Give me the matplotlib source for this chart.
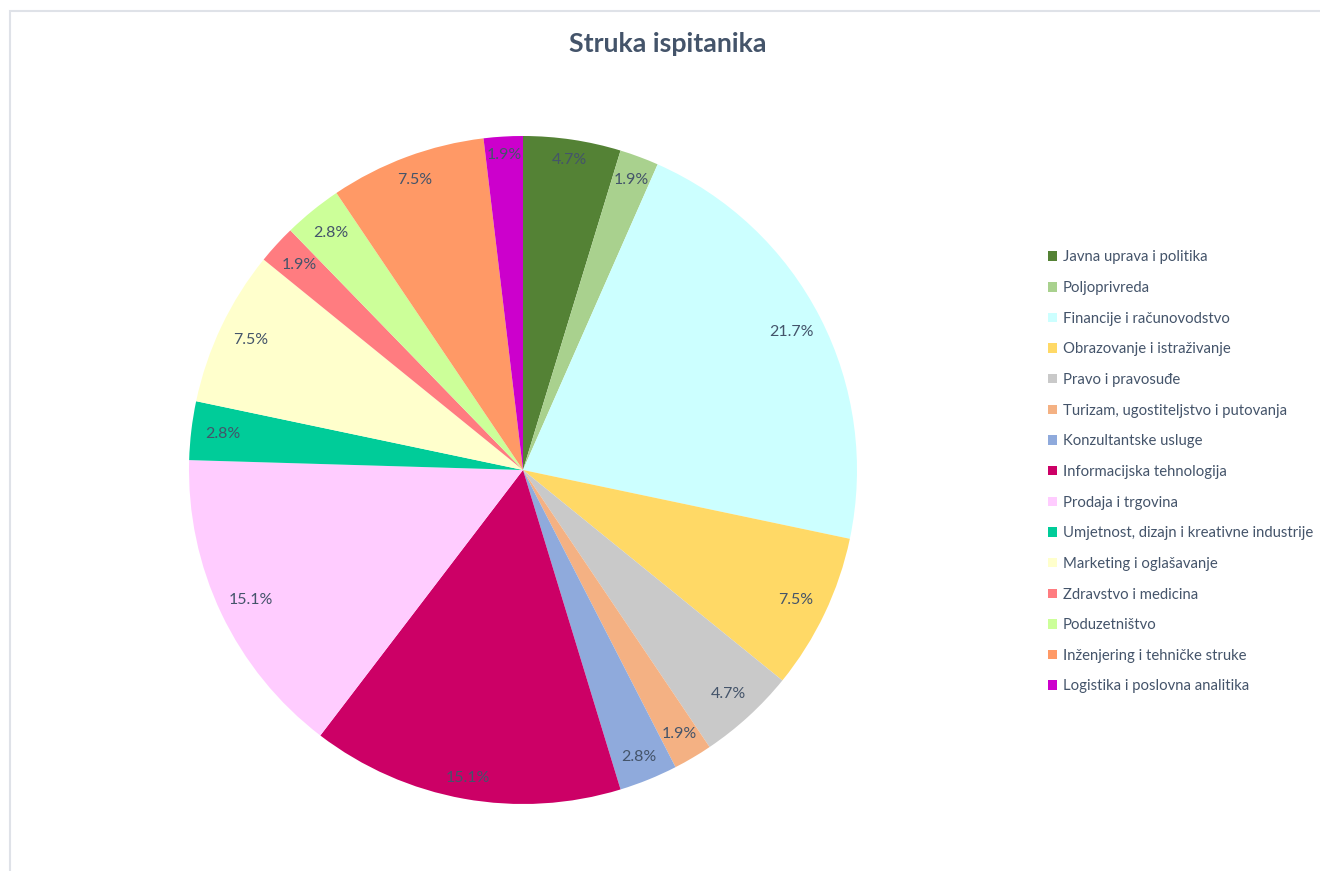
import numpy as np
import matplotlib
matplotlib.use("Agg")
import matplotlib.pyplot as plt
from matplotlib.patches import Rectangle, Patch

categories = [
    "Javna uprava i politika", "Poljoprivreda", "Financije i računovodstvo",
    "Obrazovanje i istraživanje", "Pravo i pravosuđe",
    "Turizam, ugostiteljstvo i putovanja", "Konzultantske usluge",
    "Informacijska tehnologija", "Prodaja i trgovina",
    "Umjetnost, dizajn i kreativne industrije", "Marketing i oglašavanje",
    "Zdravstvo i medicina", "Poduzetništvo", "Inženjering i tehničke struke",
    "Logistika i poslovna analitika",
]
counts = [5, 2, 23, 8, 5, 2, 3, 16, 16, 3, 8, 2, 3, 8, 2]
colors = ["#548235", "#a9d18e", "#ccffff", "#ffd966", "#c9c9c9", "#f4b183",
          "#8faadc", "#cc0066", "#ffccff", "#00cc99", "#ffffcc", "#ff7c80",
          "#ccff99", "#ff9966", "#cc00cc"]
title = "Struka ispitanika"

plt.rcParams['font.family'] = ['Lato', 'DejaVu Sans']
W, H = 1320, 871
fig = plt.figure(figsize=(W / 100, H / 100), dpi=100)

# chart-area border
fig.patches.append(Rectangle((10 / W, -0.1), 1.2, (H - 11) / H + 0.1,
                             transform=fig.transFigure, fill=False,
                             edgecolor="#dfe2e8", linewidth=1.5))

cx, cy, r = 523, 470, 334
ax = fig.add_axes([(cx - r) / W, (H - cy - r) / H, 2 * r / W, 2 * r / H])

total = sum(counts)
wedges, _ = ax.pie(counts, colors=colors, startangle=90, counterclock=False,
                   radius=1, wedgeprops=dict(edgecolor="none"))
ax.set_xlim(-1, 1)
ax.set_ylim(-1, 1)
ax.set_aspect("equal")
ax.axis("off")

# labels placed "inside end"
cum = 0
for c in counts:
    frac = c / total
    mid = (cum + frac / 2) * 2 * np.pi
    cum += frac
    ux, uy = np.sin(mid), np.cos(mid)
    ext = abs(ux) * 22 + abs(uy) * 8
    d = (r - ext - 9) / r
    ax.text(d * ux, d * uy, f"{100 * frac:.1f}%", ha="center", va="center",
            fontsize=11.5, color="#44546a")

fig.text(668 / W, 1 - 44 / H, title, ha="center", va="center",
         fontsize=19.3, fontweight="bold", color="#44546a")

handles = [Patch(facecolor=c, edgecolor="none") for c in colors]
leg = fig.legend(handles, categories, loc="upper left",
                 bbox_to_anchor=(1041 / W, 1 - 243 / H), frameon=False,
                 fontsize=10.7, labelspacing=1.12, handlelength=0.6,
                 handleheight=0.6, handletextpad=0.35, borderpad=0,
                 labelcolor="#44546a")

fig.savefig("out.png", dpi=100, facecolor="white")
